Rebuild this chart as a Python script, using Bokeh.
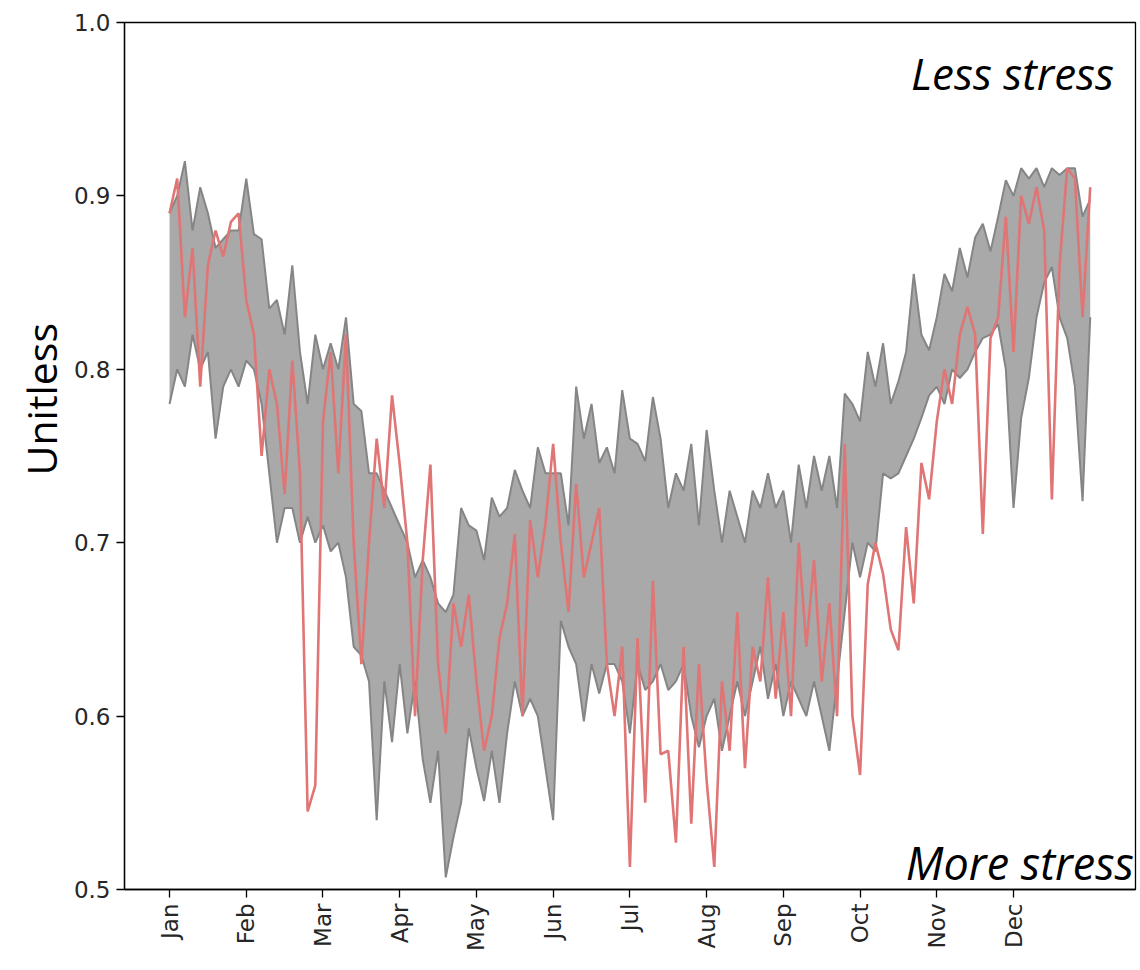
import numpy as np
from bokeh.plotting import figure
from bokeh.models import FixedTicker, PrintfTickFormatter, Range1d, Label, Title
from bokeh.embed import file_html
from bokeh.resources import INLINE

# ---- data ----
months = ["Jan", "Feb", "Mar", "Apr", "May", "Jun",
          "Jul", "Aug", "Sep", "Oct", "Nov", "Dec"]
month_ticks = list(range(12))
y_ticks = [0.5, 0.6, 0.7, 0.8, 0.9, 1.0]

# sample positions, in months since 1 Jan (every tenth of a month)
t = [i / 10 for i in range(121)]

band_upper = [
    0.89, 0.90, 0.92, 0.88, 0.905, 0.89, 0.87, 0.875, 0.88, 0.88,
    0.91, 0.878, 0.875, 0.835, 0.84, 0.82, 0.86, 0.81, 0.78, 0.82,
    0.80, 0.815, 0.80, 0.83, 0.78, 0.776, 0.74, 0.74, 0.73, 0.72,
    0.71, 0.70, 0.68, 0.69, 0.68, 0.665, 0.66, 0.67, 0.72, 0.71,
    0.707, 0.69, 0.726, 0.715, 0.72, 0.742, 0.73, 0.72, 0.755, 0.74,
    0.74, 0.74, 0.71, 0.79, 0.76, 0.78, 0.746, 0.755, 0.74, 0.788,
    0.76, 0.757, 0.747, 0.784, 0.76, 0.72, 0.74, 0.73, 0.757, 0.71,
    0.765, 0.73, 0.70, 0.73, 0.715, 0.70, 0.73, 0.72, 0.74, 0.72,
    0.73, 0.70, 0.745, 0.72, 0.75, 0.73, 0.75, 0.72, 0.786, 0.78,
    0.77, 0.81, 0.79, 0.815, 0.78, 0.793, 0.81, 0.855, 0.82, 0.811,
    0.83, 0.855, 0.845, 0.87, 0.853, 0.876, 0.884, 0.868, 0.888, 0.909,
    0.90, 0.916, 0.91, 0.916, 0.905, 0.916, 0.912, 0.916, 0.916, 0.888,
    0.898,
]

band_lower = [
    0.78, 0.80, 0.79, 0.82, 0.80, 0.81, 0.76, 0.79, 0.80, 0.79,
    0.805, 0.80, 0.78, 0.74, 0.70, 0.72, 0.72, 0.70, 0.715, 0.70,
    0.71, 0.695, 0.70, 0.68, 0.64, 0.635, 0.62, 0.54, 0.62, 0.585,
    0.63, 0.59, 0.62, 0.575, 0.55, 0.58, 0.507, 0.53, 0.55, 0.593,
    0.57, 0.551, 0.58, 0.55, 0.59, 0.62, 0.60, 0.61, 0.60, 0.57,
    0.54, 0.655, 0.64, 0.63, 0.597, 0.63, 0.613, 0.63, 0.63, 0.62,
    0.59, 0.63, 0.615, 0.62, 0.63, 0.615, 0.62, 0.63, 0.60, 0.582,
    0.60, 0.61, 0.58, 0.60, 0.62, 0.60, 0.62, 0.64, 0.61, 0.63,
    0.60, 0.62, 0.61, 0.60, 0.62, 0.60, 0.58, 0.62, 0.66, 0.70,
    0.68, 0.70, 0.695, 0.74, 0.737, 0.74, 0.75, 0.76, 0.772, 0.785,
    0.79, 0.78, 0.80, 0.795, 0.80, 0.81, 0.818, 0.82, 0.826, 0.80,
    0.72, 0.772, 0.795, 0.83, 0.85, 0.859, 0.83, 0.818, 0.79, 0.724,
    0.83,
]

red_series = [
    0.89, 0.91, 0.83, 0.87, 0.79, 0.86, 0.88, 0.865, 0.885, 0.89,
    0.84, 0.82, 0.75, 0.80, 0.78, 0.728, 0.805, 0.74, 0.545, 0.56,
    0.77, 0.81, 0.74, 0.82, 0.70, 0.63, 0.70, 0.76, 0.72, 0.785,
    0.745, 0.70, 0.60, 0.69, 0.745, 0.63, 0.59, 0.665, 0.64, 0.67,
    0.62, 0.58, 0.60, 0.645, 0.665, 0.705, 0.60, 0.713, 0.68, 0.711,
    0.757, 0.70, 0.66, 0.734, 0.68, 0.70, 0.72, 0.63, 0.60, 0.64,
    0.513, 0.645, 0.55, 0.678, 0.578, 0.58, 0.527, 0.64, 0.538, 0.63,
    0.563, 0.513, 0.62, 0.58, 0.66, 0.57, 0.64, 0.62, 0.68, 0.61,
    0.66, 0.60, 0.70, 0.64, 0.69, 0.62, 0.665, 0.60, 0.757, 0.60,
    0.566, 0.676, 0.70, 0.682, 0.65, 0.638, 0.709, 0.665, 0.746, 0.725,
    0.77, 0.80, 0.78, 0.82, 0.836, 0.82, 0.705, 0.818, 0.83, 0.888,
    0.81, 0.90, 0.884, 0.905, 0.88, 0.725, 0.86, 0.916, 0.91, 0.83,
    0.905,
]

# ---- figure ----
p = figure(width=1140, height=970, output_backend="svg", toolbar_location=None,
           x_range=Range1d(-0.587, 12.59), y_range=Range1d(0.5, 1.0),
           min_border_left=124, min_border_right=5, min_border_top=22,
           min_border_bottom=81)

p.background_fill_color = "white"
p.border_fill_color = "white"
p.xgrid.visible = False
p.ygrid.visible = False
p.outline_line_color = "black"
p.outline_line_width = 1.3
p.outline_line_alpha = 1.0

p.varea(x=t, y1=band_lower, y2=band_upper, fill_color="#a9a9a9", fill_alpha=1.0)
p.line(t, band_upper, line_color="#858585", line_width=2)
p.line(t, band_lower, line_color="#858585", line_width=2)
p.line(t, red_series, line_color="#e07575", line_width=2.6)

# axes
p.xaxis.ticker = FixedTicker(ticks=month_ticks)
p.xaxis.major_label_overrides = {i: m for i, m in zip(month_ticks, months)}
p.xaxis.major_label_orientation = np.pi / 2
p.yaxis.ticker = FixedTicker(ticks=y_ticks)
p.yaxis.formatter = PrintfTickFormatter(format="%.1f")

for ax in (p.xaxis[0], p.yaxis[0]):
    ax.axis_line_color = "black"
    ax.axis_line_width = 1.3
    ax.major_tick_line_color = "black"
    ax.major_tick_line_width = 1.3
    ax.major_tick_out = 8
    ax.major_tick_in = 0
    ax.minor_tick_line_color = None
    ax.major_label_text_font = "DejaVu Sans"
    ax.major_label_text_font_size = "23px"
    ax.major_label_text_color = "#262626"
    ax.major_label_standoff = 6

# y-axis title, as a side title so it can sit above the frame's centre
ytitle = Title(text="Unitless", text_font="Open Sans", text_font_size="41px",
               text_font_style="normal", text_color="black",
               align="left", offset=414, standoff=4)
p.add_layout(ytitle, "left")

p.add_layout(Label(x=12.31, y=0.9706, text="Less stress", text_font="Open Sans",
                   text_font_size="44px", text_font_style="italic",
                   text_align="right", text_baseline="middle", text_color="black"))
p.add_layout(Label(x=12.57, y=0.5156, text="More stress", text_font="Open Sans",
                   text_font_size="45px", text_font_style="italic",
                   text_align="right", text_baseline="middle", text_color="black"))

open("out.html", "w").write(file_html(p, INLINE))
